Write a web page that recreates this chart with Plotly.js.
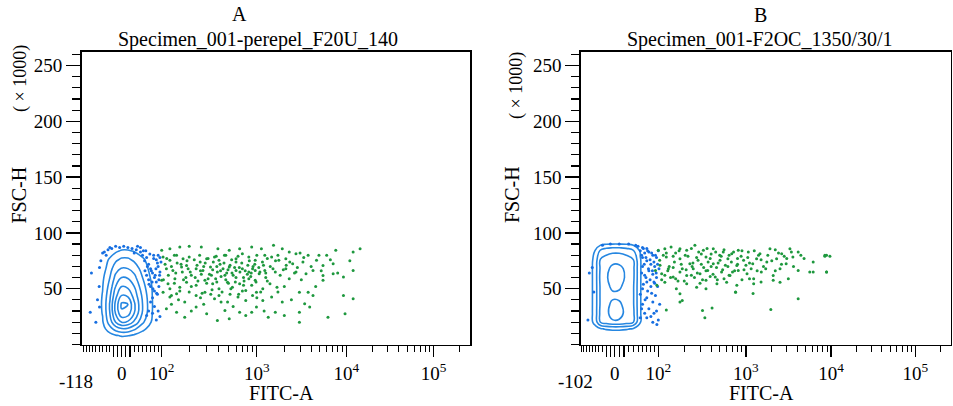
<!DOCTYPE html>
<html><head><meta charset="utf-8">
<script src="https://cdn.plot.ly/plotly-3.0.1.min.js"></script>
<style>html,body{margin:0;padding:0;background:#fff}#chart{width:953px;height:406px}</style>
</head><body><div id="chart"></div>
<script>
// ---------------- data ----------------
const fitcMax = 262144;
const fitcMinA = -118, fitcMinB = -102;
const fscMax = 262.144; // FSC-H (x1000)

// Panel A: green (positive) events
const greenA_fitc = [100,125,160,200,265,390,510,655,880,1120,1520,1900,2270,2700,3700,4900,6000,7600,12000,14400,
 104,125,148,173,200,258,300,360,400,470,600,700,820,960,1220,1450,1740,2080,2480,3230,4600,7100,5450,
 114,135,167,188,235,275,328,385,440,510,600,700,820,900,960,1060,1220,1590,2080,2700,3500,4200,5450,7100,9300,12000,
 100,119,142,160,188,235,288,345,400,490,550,655,760,880,960,1160,1390,1660,2270,2950,3700,5450,
 104,125,148,180,235,288,360,400,490,630,760,900,990,1160,1450,1900,3380,9300,12000,
 114,148,180,235,300,385,460,510,655,760,880,990,1330,1590,2950,3850,6200,2950,9700,
 110,130,150,170,190,210,240,260,290,320,350,380,420,450,480,520,560,600,650,720,800,870,950,1050,1150,1250,1400,1600,1800,2100,
 105,125,140,160,185,210,245,270,310,340,380,430,470,530,590,640,720,820,1100,1300,2000,2600,3100,4000,5200,6600,4500,8000,11000,3000,
 115,140,165,195,225,255,280,310,345,375,410,455,495,540,580,630,690,750,830,910,1000,1080,1180,1300,1500,1700,1950,2300,2800,3300,
 120,145,175,205,230,265,300,335,370,415,460,500,545,600,660,730,790,860,980,1250,
 130,155,200,260,330,420,520,700,1000,1700,2400,4200,130,210,280,560,1200,2000];
const greenA_fsc = [84.4,85.9,87.3,88,87.3,85.9,84.4,85.9,87.3,85.9,88.9,85.9,82.9,81.4,79.9,79.9,79.9,84.4,82.9,85.9,
 78.4,75.4,79.9,76.9,78.4,73.9,76.9,78.4,75.4,79.9,76.9,81.4,78.4,75.4,79.9,78.4,75.4,76.9,72.4,73.9,75.4,72.4,70.9,
 68,66.4,69.4,70.9,68,66.4,69.4,64.9,68,69.4,66.4,68,64.9,68,66.4,63.5,66.4,64.9,68,64.9,63.5,66.4,61.9,63.5,60.4,66.4,
 57.5,54.5,59,51.4,55.9,53,57.5,54.5,50,55.9,51.4,54.5,48.5,53,57.5,50,54.5,51.4,59,46.9,46.9,57.5,
 46.9,42.5,45.5,38,44,46.9,41,44,38,42.5,39.5,44,46.9,39.5,42.5,38,36.5,44,41,
 32,29,24.5,33.5,27.6,21.5,30.5,23,29,26,29,33.5,24.5,29,29,33.5,24.5,20,27.6,
 72,70,73,65,75,62,71,66,73,63,74,70,61,73,64,71,62,74,69,60,71,64,72,69,74,60,70,75,62,71,
 58,50,55,48,60,52,57,46,59,49,56,47,58,50,56,45,53,59,47,57,52,64,58,70,66,76,52,64,75,82,
 77,80,72,68,76,80,70,77,67,79,72,80,67,76,69,79,73,66,75,70,80,65,71,77,68,80,67,74,69,78,
 62,64,58,65,60,63,55,62,59,66,62,55,64,60,65,57,63,61,56,64,
 44,40,47,42,45,38,45,48,42,47,40,44,36,30,36,34,30,26];

// Panel A: blue (negative) events outside the contours
const blueA_fitc = [-45,-35,-25,-15,-5,5,15,25,35,45,-40,30,50,60,
 55,65,70,75,80,85,70,80,90,95,60,88,75,92,65,85,95,78,
 70,80,90,75,95,85,65,60,
 -84,-59,-88,-59,-65,-70,-60,
 58,68,78,88,62,72,82,92,66,76,86,56,90,98,84,74,94,-50,-55,45,38,-30,52];
const blueA_fsc = [83,85,86,88,87,88,87,86,85,83,80,82,80,78,
 75,72,68,64,60,56,52,48,70,65,62,45,42,52,58,76,78,80,
 38,34,30,28,25,22,30,26,
 64,69,29,33.5,40,20,52,
 84,81,77,73,70,66,62,58,54,50,46,66,80,74,68,56,62,82,75,87,88,87,84];

// Panel A: density grid of the negative population (contours)
const gridA_fitc = [-118,-80,-50,-30,-15,0,15,30,50,75,100,140];
const gridA_fsc = [0,8,14,20,28,36,44,52,60,68,76,84,92];
const densA = [
 [0,0,0,0,0,0,0,0,0,0,0,0],
 [0,0,0.2,0.6,0.9,1.1,1.05,0.8,0.4,0.05,0,0],
 [0,0.1,0.6,1.6,2.4,2.9,2.8,2.2,1.3,0.4,0,0],
 [0,0.1,0.9,2.5,4.0,5.0,4.8,3.8,2.2,0.8,0.1,0],
 [0,0.2,1.05,3.0,5.1,6.8,6.5,5.0,2.9,0.95,0.2,0],
 [0,0.2,1.1,3.1,5.3,7.2,7.0,5.2,3.0,1.0,0.2,0],
 [0,0.2,1.05,2.8,4.7,6.0,5.8,4.6,2.8,0.95,0.2,0],
 [0,0.1,0.95,2.4,4.0,5.0,4.8,4.0,2.4,0.9,0.1,0],
 [0,0.1,0.8,2.0,3.3,4.0,3.9,3.3,2.0,0.7,0.1,0],
 [0,0,0.5,1.6,2.6,3.1,3.0,2.6,1.6,0.5,0,0],
 [0,0,0.25,1.2,1.8,2.2,2.2,1.8,1.2,0.3,0,0],
 [0,0,0,0.3,0.8,1.1,1.1,0.9,0.4,0,0,0],
 [0,0,0,0,0,0,0,0,0,0,0,0]];

// Panel B: green (positive) events
const greenB_fitc = [100,120,142,179,213,263,327,423,549,686,816,1066,1456,1905,2615,3270,4090,8850,8450,9700,5600,8850,4800,
 104,125,155,179,231,285,350,423,504,620,785,940,1200,1330,1750,2280,2950,3540,6150,8450,
 92,110,132,150,179,213,252,300,366,445,525,655,816,1030,1230,1510,2080,2500,3130,4090,6150,8850,
 96,120,163,213,275,350,465,600,785,1230,2080,2500,760,350,179,
 179,190,320,410,340,125,1950,1210,4090,760,
 115,135,160,190,220,250,290,330,370,400,460,520,580,680,740,880,1000,1150,1400,1600,2000,2400,3000,3600,2200,140,170,240,320,420,560,900,110,
 125,150,175,205,240,275,310,360,390,450,500,560,640,720,800,900,1050,1250,1500,1800,2200,2800,3400,4400,
 105,130,150,185,210,245,280,310,350,400,480,540,620,700,800,950,1100,1350,1700,2600,
 120,160,200,260,300,390,470,640,1100,1500];
const greenB_fsc = [84.4,85.9,87.3,85.9,84.4,88.9,84.4,85.9,82.9,81.4,84.4,82.9,81.4,85.9,81.4,85.9,82.9,79.9,79,79,65,65,77,
 75.4,78.4,73.9,76.9,72.4,75.4,78.4,72.4,75.4,76.9,70.9,75.4,72.4,76.9,73.9,76.9,72.4,78.4,73.9,79.9,
 66.4,63.5,68,60.4,64.9,61.9,68,63.5,66.4,60.4,64.9,61.9,66.4,63.5,59,64.9,61.9,68,59,66.4,64.9,64.9,
 53,55.9,50,54.5,51.4,57.5,54.5,55.9,53,54.5,57.5,55.9,46.9,50,45.5,
 38,39.5,30.5,32.6,24,31,31.4,45.8,41,47,
 80,70,82,68,79,73,83,69,74,81,69,79,71,74,66,79,71,68,80,70,75,82,77,70,66,60,57,62,58,63,59,58,58,
 82,79,84,80,86,78,81,86,77,83,80,85,80,83,77,84,78,84,76,80,85,79,83,80,
 71,66,69,72,67,70,64,72,66,70,73,67,70,65,72,67,73,66,68,72,
 62,59,57,60,55,61,58,62,59,56];

// Panel B: blue (negative) events outside the contours
const blueB_fitc = [50,60,70,55,65,75,85,95,60,70,80,90,60,75,85,95,65,70,80,60,90,55,70,85,60,75,95,65,80,100,55,85,
 -60,-70,-55,-75,45,30,10,-10,-30,
 62,72,82,92,100,58,68,78,88,98,64,74,84,94,102,58,68,78,88,98,62,72,82,92,66,104,58,88,70,96];
const blueB_fsc = [88,87,86,84,82,83,80,78,78,75,72,70,70,66,63,60,62,56,52,50,55,45,42,38,36,32,30,28,25,22,24,20,
 69,64,47,22,89,90,90,90,89,
 86,84,82,80,84,80,78,76,74,72,72,68,66,64,68,64,60,58,56,52,54,48,46,44,40,36,32,28,24,18];

// Panel B: density grid of the negative population (contours)
const gridB_fitc = [-102,-75,-50,-35,-20,-5,10,25,40,55,75,100];
const gridB_fsc = [0,8,14,20,28,36,44,52,60,68,76,84,92,100];
const densB = [
 [0,0,0,0,0,0,0,0,0,0,0,0],
 [0,0,0,0.1,0.2,0.2,0.2,0.2,0.1,0,0,0],
 [0,0,0.5,0.9,1.1,1.2,1.2,1.1,0.9,0.4,0,0],
 [0,0.1,1.5,3.1,3.5,3.8,3.8,3.5,3.0,1.05,0.1,0],
 [0,0.1,1.6,3.3,3.7,4.5,4.4,3.7,3.2,1.05,0.2,0],
 [0,0.1,1.6,3.2,3.6,4.3,4.2,3.6,3.1,1.05,0.2,0],
 [0,0.1,1.6,3.2,3.5,3.7,3.7,3.5,3.1,1.05,0.2,0],
 [0,0.1,1.6,3.2,3.6,4.3,4.2,3.6,3.1,1.05,0.2,0],
 [0,0.1,1.6,3.3,3.8,4.7,4.6,3.8,3.2,1.05,0.3,0],
 [0,0.1,1.6,3.2,3.6,4.4,4.4,3.7,3.2,1.05,0.3,0],
 [0,0.1,1.5,3.1,3.4,3.5,3.5,3.4,3.0,1.05,0.2,0],
 [0,0,1.1,2.2,2.6,2.8,2.8,2.6,2.1,0.9,0.1,0],
 [0,0,0.1,0.3,0.4,0.4,0.4,0.4,0.3,0.1,0,0],
 [0,0,0,0,0,0,0,0,0,0,0,0]];

// axis tick values
const yTickVals = [50,100,150,200,250];
const xMajorVals = [0,100,1000,10000,100000];
const xMajorText = ['0','10<sup>2</sup>','10<sup>3</sup>','10<sup>4</sup>','10<sup>5</sup>'];
const xNearZero = [-20,-10,10,20];
const xMinorA = [-110,-100,-90,-80,-70,-60,-50,-40,-30,30,40,50,60,70,80,90,200,300,400,500,600,700,800,900,2000,3000,4000,5000,6000,7000,8000,9000,20000,30000,40000,50000,60000,70000,80000,90000,200000];
const xMinorB = [-100,-90,-80,-70,-60,-50,-40,-30,30,40,50,60,70,80,90,200,300,400,500,600,700,800,900,2000,3000,4000,5000,6000,7000,8000,9000,20000,30000,40000,50000,60000,70000,80000,90000,200000];

// ---------------- biexponential display scale ----------------
const biexA = {B: 854, L: -1.499, C: 75.7};
const biexB = {B: 1635, L: -2.385, C: 26.7};
function toValue(p, u){ return Math.pow(10, u) - p.B * Math.exp(p.L * u) + p.C; }
function toDisp(p, v){
  let lo = -2, hi = 7;
  for (let i = 0; i < 70; i++){ const m = (lo + hi) / 2; if (toValue(p, m) < v) lo = m; else hi = m; }
  return (lo + hi) / 2;
}
const mapA = arr => arr.map(v => toDisp(biexA, v));
const mapB = arr => arr.map(v => toDisp(biexB, v));

// ---------------- style ----------------
const SERIF = 'Liberation Serif, Times New Roman, serif';
const GREEN = 'rgb(30,152,62)';
const BLUE_DOT = 'rgb(22,110,225)';
const BLUE_LINE = 'rgb(38,135,225)';
const W = 953, H = 406;
const px = x => x / W, py = y => 1 - y / H;

function contourTrace(xs, ys, z, xa, ya, levels){
  return {type:'contour', x: xs, y: ys, z: z, xaxis: xa, yaxis: ya,
    contours:{coloring:'lines', start:1, end:levels, size:1, showlabels:false},
    colorscale:[[0, BLUE_LINE],[1, BLUE_LINE]], showscale:false,
    line:{width:1.6, smoothing:1.3}, hoverinfo:'skip'};
}
function dots(xs, ys, color, xa, ya){
  return {type:'scatter', mode:'markers', x: xs, y: ys, xaxis: xa, yaxis: ya,
    marker:{size:3, color: color, line:{width:0}}, hoverinfo:'skip'};
}

const traces = [
  contourTrace(mapA(gridA_fitc), gridA_fsc, densA, 'x', 'y', 7),
  dots(mapA(blueA_fitc), blueA_fsc, BLUE_DOT, 'x', 'y'),
  dots(mapA(greenA_fitc), greenA_fsc, GREEN, 'x', 'y'),
  contourTrace(mapB(gridB_fitc), gridB_fsc, densB, 'x2', 'y2', 4),
  dots(mapB(blueB_fitc), blueB_fsc, BLUE_DOT, 'x2', 'y2'),
  dots(mapB(greenB_fitc), greenB_fsc, GREEN, 'x2', 'y2')
];

function xAxis(p, minV, minor, domain, anchor){
  const vals = xMajorVals.concat(xNearZero);
  const text = xMajorText.concat(xNearZero.map(() => ''));
  return {domain: domain, anchor: anchor, range:[toDisp(p, minV), toDisp(p, fitcMax)],
    showline:true, mirror:true, linecolor:'#000', linewidth:1.6,
    showgrid:false, zeroline:false, ticks:'outside', ticklen:11, tickwidth:1.3, tickcolor:'#000',
    tickmode:'array', tickvals: vals.map(v => toDisp(p, v)), ticktext: text,
    ticklabelstandoff: 0,
    tickfont:{family:SERIF, size:19, color:'#000'},
    minor:{tickmode:'array', tickvals: minor.map(v => toDisp(p, v)), ticks:'outside', ticklen:6, tickwidth:1, tickcolor:'#000', showgrid:false},
    fixedrange:true};
}
function yAxis(domain, anchor){
  return {domain: domain, anchor: anchor, range:[0, fscMax],
    showline:true, mirror:true, linecolor:'#000', linewidth:1.6,
    showgrid:false, zeroline:false, ticks:'outside', ticklen:14, tickwidth:1.3, tickcolor:'#000',
    tickmode:'array', tickvals: yTickVals, ticktext: yTickVals.map(String),
    tickfont:{family:SERIF, size:19, color:'#000'},
    minor:{tickmode:'linear', tick0:0, dtick:10, ticks:'outside', ticklen:8, tickwidth:1.2, tickcolor:'#000', showgrid:false},
    fixedrange:true};
}

const yDom = [py(344.5), py(52)];
function ann(text, x, y, size, angle){
  return {text: text, x: px(x), y: py(y), xref:'paper', yref:'paper', showarrow:false,
    xanchor:'center', yanchor:'middle', textangle: angle || 0,
    font:{family:SERIF, size:size, color:'#000'}};
}

const layout = {
  width: W, height: H, margin:{l:0, r:0, t:0, b:0},
  paper_bgcolor:'#fff', plot_bgcolor:'#fff', showlegend:false,
  xaxis: xAxis(biexA, fitcMinA, xMinorA, [px(81.7), px(470)], 'y'),
  yaxis: yAxis(yDom, 'x'),
  xaxis2: xAxis(biexB, fitcMinB, xMinorB, [px(581), px(950.7)], 'y2'),
  yaxis2: yAxis(yDom, 'x2'),
  annotations: [
    ann('A', 240, 14, 20),
    ann('Specimen_001-perepel_F20U_140', 257.5, 40, 20),
    ann('B', 760, 15, 20),
    ann('Specimen_001-F2OC_1350/30/1', 760, 40, 20),
    ann('FITC-A', 281, 393, 20),
    ann('FITC-A', 761, 393, 20),
    ann('FSC-H', 18.5, 195, 20, -90),
    ann('FSC-H', 512, 195, 20, -90),
    ann('( × 1000)', 20, 79, 18, -90),
    ann('( × 1000)', 517, 86, 18, -90),
    ann(String(fitcMinA), 76, 381, 19),
    ann(String(fitcMinB), 575, 381, 19)
  ]
};

Plotly.newPlot('chart', traces, layout, {staticPlot:true, displayModeBar:false});
</script>
</body></html>
